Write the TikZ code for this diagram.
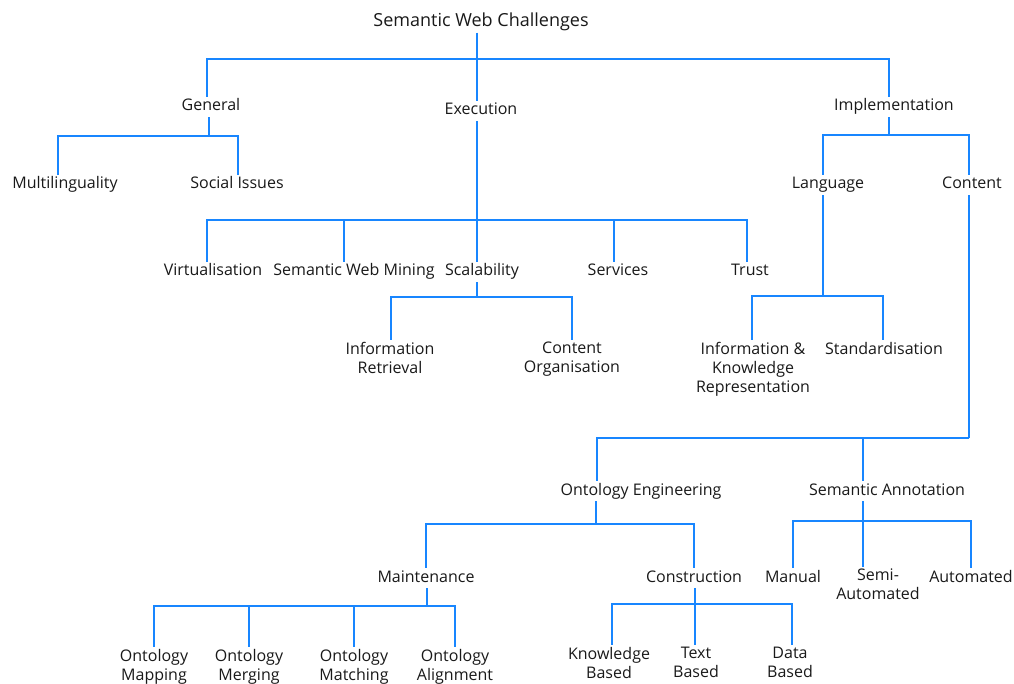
\documentclass[tikz,border=0pt]{standalone}
\usepackage{fontspec}
\setmainfont{Open Sans}
\definecolor{lineblue}{RGB}{24,134,255}
\definecolor{txt}{RGB}{25,25,25}
\tikzset{
  lbl/.style={inner sep=2pt, text height=12pt, text depth=4pt, align=center, text=txt,
    yshift=-3pt, font=\fontsize{16}{19}\selectfont},
  mlbl/.style={inner sep=2pt, align=center, text=txt, anchor=north,
    font=\fontsize{16}{19}\selectfont},
  conn/.style={draw=lineblue, line width=2.4pt}
}
\begin{document}
\begin{tikzpicture}[x=1pt,y=-1pt]
\useasboundingbox (0,0) rectangle (1014,684);
% nodes
\node[lbl, font=\fontsize{18}{21}\selectfont, text height=13pt] (root) at (481,19) {Semantic Web Challenges};
\node[lbl] (gen) at (211,104) {General};
\node[lbl] (exe) at (481,108) {Execution};
\node[lbl] (imp) at (894,104) {Implementation};
\node[lbl] (mul) at (65,182) {Multilinguality};
\node[lbl] (soc) at (237,182) {Social Issues};
\node[lbl] (lang) at (828,182) {Language};
\node[lbl] (cont) at (972,182) {Content};
\node[lbl] (vir) at (213,269) {Virtualisation};
\node[lbl] (swm) at (354,269) {Semantic Web Mining};
\node[lbl] (sca) at (482,269) {Scalability};
\node[lbl] (ser) at (618,269) {Services};
\node[lbl] (tru) at (750,269) {Trust};
\node[mlbl] (ir) at (390,340) {Information\\Retrieval};
\node[mlbl] (co) at (572,340) {Content\\Organisation};
\node[mlbl] (ikr) at (753,340) {Information \&\\Knowledge\\Representation};
\node[mlbl] (std) at (884,340) {Standardisation};
\node[lbl] (oe) at (641,488) {Ontology Engineering};
\node[lbl] (sa) at (887,488) {Semantic Annotation};
\node[lbl] (mai) at (426,575) {Maintenance};
\node[lbl] (con) at (694,575) {Construction};
\node[lbl] (man) at (793,575) {Manual};
\node[mlbl] (semi) at (878,567) {Semi-\\Automated};
\node[lbl] (aut) at (971,575) {Automated};
\node[mlbl] (om1) at (154,647) {Ontology\\Mapping};
\node[mlbl] (om2) at (249,647) {Ontology\\Merging};
\node[mlbl] (om3) at (354,647) {Ontology\\Matching};
\node[mlbl] (om4) at (455,647) {Ontology\\Alignment};
\node[mlbl] (kb) at (609,645) {Knowledge\\Based};
\node[mlbl] (tb) at (696,645) {Text\\Based};
\node[mlbl] (db) at (790,645) {Data\\Based};
% bus junctions
\coordinate (bR) at (477,59);
\coordinate (bG) at (209,136);
\coordinate (bE) at (477,220);
\coordinate (bI) at (889,135);
\coordinate (bS) at (477,297);
\coordinate (bL) at (823,296);
\coordinate (bC) at (969,438);
\coordinate (bO) at (596,524);
\coordinate (bA) at (863,521);
\coordinate (bM) at (427,606);
\coordinate (bK) at (695,604);
% connectors
\draw[conn] (root.south -| bR) -- (bR);
\draw[conn] (bR) -| ([xshift=-4pt]gen.north);
\draw[conn] (bR) -- (exe.north -| bR);
\draw[conn] (bR) -| ([xshift=-5pt]imp.north);

\draw[conn] (gen.south -| bG) -- (bG);
\draw[conn] (bG) -| ([xshift=-7pt]mul.north);
\draw[conn] (bG) -| ([xshift=1pt]soc.north);

\draw[conn] (exe.south -| bE) -- (bE) -- (sca.north -| bE);
\draw[conn] (bE) -| ([xshift=-6pt]vir.north);
\draw[conn] (bE) -| ([xshift=-10pt]swm.north);
\draw[conn] (bE) -| ([xshift=-4pt]ser.north);
\draw[conn] (bE) -| ([xshift=-3pt]tru.north);

\draw[conn] (sca.south -| bS) -- (bS);
\draw[conn] (bS) -| ([xshift=1pt]ir.north);
\draw[conn] (bS) -| (co.north);

\draw[conn] (imp.south -| bI) -- (bI);
\draw[conn] (bI) -| ([xshift=-5pt]lang.north);
\draw[conn] (bI) -| ([xshift=-3pt]cont.north);

\draw[conn] (lang.south -| bL) -- (bL);
\draw[conn] (bL) -| ([xshift=-1pt]ikr.north);
\draw[conn] (bL) -| ([xshift=-1pt]std.north);

\draw[conn] (cont.south -| bC) -- (bC);
\draw[conn] (bC) -| ([xshift=-44pt]oe.north);
\draw[conn] (bC) -| ([xshift=-24pt]sa.north);

\draw[conn] (oe.south -| bO) -- (bO);
\draw[conn] (bO) -| (mai.north);
\draw[conn] (bO) -| (con.north);

\draw[conn] (sa.south -| bA) -- (bA);
\draw[conn] (bA) -| (man.north);
\draw[conn] (bA) -- (semi.north -| bA);
\draw[conn] (bA) -| (aut.north);

\draw[conn] (mai.south -| bM) -- (bM);
\draw[conn] (bM) -| (om1.north);
\draw[conn] (bM) -| (om2.north);
\draw[conn] (bM) -| (om3.north);
\draw[conn] (bM) -| (om4.north);

\draw[conn] (con.south -| bK) -- (bK);
\draw[conn] (bK) -| ([xshift=3pt]kb.north);
\draw[conn] (bK) -- (tb.north -| bK);
\draw[conn] (bK) -| ([xshift=2pt]db.north);
\end{tikzpicture}
\end{document}
